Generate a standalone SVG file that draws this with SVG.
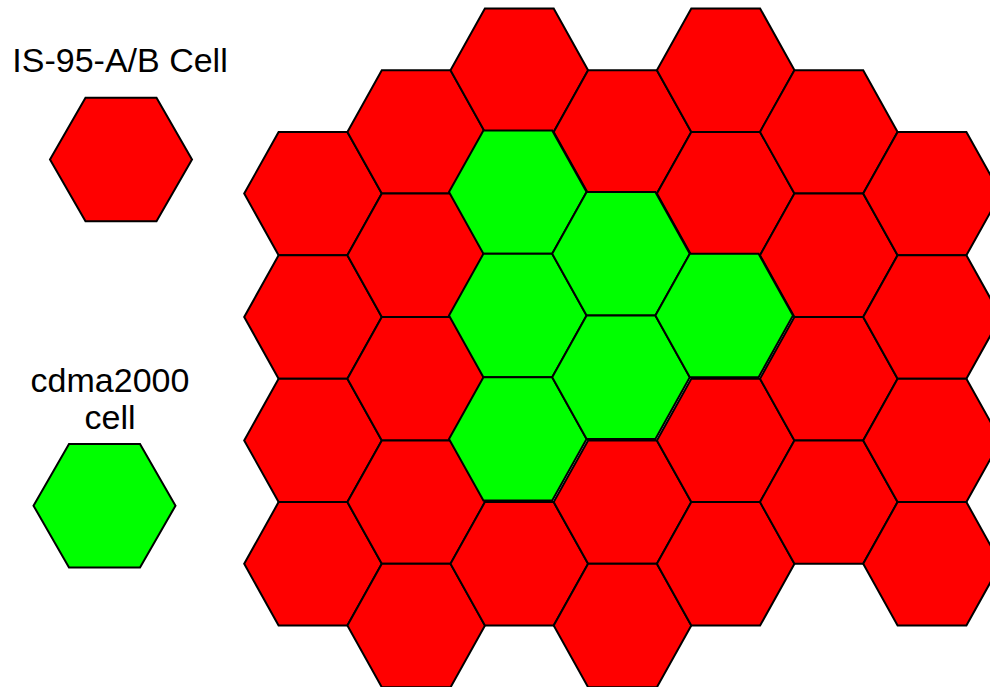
<svg xmlns="http://www.w3.org/2000/svg" xmlns:xlink="http://www.w3.org/1999/xlink" width="990" height="687" viewBox="0 0 990 687">
<style>
.red{fill:#FF0000;stroke:#000;stroke-width:2;stroke-linejoin:miter}
.green{fill:#00FF00;stroke:#000;stroke-width:2;stroke-linejoin:miter}
.lbl{font-family:"Liberation Sans",Arial,sans-serif;font-size:34px;fill:#000;text-anchor:middle}
</style>
<defs>
<polygon id="hex" points="-68.8,0 -34.4,-61.7 34.4,-61.7 68.8,0 34.4,61.7 -34.4,61.7"/>
<polygon id="lhex" points="-71,0 -35.5,-61.7 35.5,-61.7 71,0 35.5,61.7 -35.5,61.7"/>
</defs>
<rect width="990" height="687" fill="#fff"/>
<g id="legend">
<g id="legend-is95"><text class="lbl" x="120" y="72">IS-95-A/B Cell</text><use xlink:href="#lhex" class="red" x="121" y="159.5"/></g>
<g id="legend-cdma2000"><text class="lbl" x="110" y="392">cdma2000</text><text class="lbl" x="110" y="429">cell</text><use xlink:href="#lhex" class="green" x="104.5" y="505.7"/></g>
</g>
<g id="connectors"/>
<g id="grid">
<g id="c1r1"><use xlink:href="#hex" class="red" x="313" y="193.6"/></g>
<g id="c1r2"><use xlink:href="#hex" class="red" x="313" y="317"/></g>
<g id="c1r3"><use xlink:href="#hex" class="red" x="313" y="440.4"/></g>
<g id="c1r4"><use xlink:href="#hex" class="red" x="313" y="563.8"/></g>
<g id="c2r0"><use xlink:href="#hex" class="red" x="416.2" y="131.9"/></g>
<g id="c2r1"><use xlink:href="#hex" class="red" x="416.2" y="255.3"/></g>
<g id="c2r2"><use xlink:href="#hex" class="red" x="416.2" y="378.7"/></g>
<g id="c2r3"><use xlink:href="#hex" class="red" x="416.2" y="502.1"/></g>
<g id="c2r4"><use xlink:href="#hex" class="red" x="416.2" y="625.5"/></g>
<g id="c3r0"><use xlink:href="#hex" class="red" x="519.3" y="70.2"/></g>
<g id="c3r4"><use xlink:href="#hex" class="red" x="519.3" y="563.8"/></g>
<g id="c4r0"><use xlink:href="#hex" class="red" x="622.5" y="131.9"/></g>
<g id="c4r3"><use xlink:href="#hex" class="red" x="622.5" y="502.1"/></g>
<g id="c4r4"><use xlink:href="#hex" class="red" x="622.5" y="625.5"/></g>
<g id="c5r0"><use xlink:href="#hex" class="red" x="725.7" y="70.2"/></g>
<g id="c5r1"><use xlink:href="#hex" class="red" x="725.7" y="193.6"/></g>
<g id="c5r3"><use xlink:href="#hex" class="red" x="725.7" y="440.4"/></g>
<g id="c5r4"><use xlink:href="#hex" class="red" x="725.7" y="563.8"/></g>
<g id="c6r0"><use xlink:href="#hex" class="red" x="828.8" y="131.9"/></g>
<g id="c6r1"><use xlink:href="#hex" class="red" x="828.8" y="255.3"/></g>
<g id="c6r2"><use xlink:href="#hex" class="red" x="828.8" y="378.7"/></g>
<g id="c6r3"><use xlink:href="#hex" class="red" x="828.8" y="502.1"/></g>
<g id="c7r1"><use xlink:href="#hex" class="red" x="932" y="193.6"/></g>
<g id="c7r2"><use xlink:href="#hex" class="red" x="932" y="317"/></g>
<g id="c7r3"><use xlink:href="#hex" class="red" x="932" y="440.4"/></g>
<g id="c7r4"><use xlink:href="#hex" class="red" x="932" y="563.8"/></g>
</g>
<g id="cdma2000-cells" transform="translate(-1.5,-1.5)">
<g id="c3r1"><use xlink:href="#hex" class="green" x="519.3" y="193.6"/></g>
<g id="c3r2"><use xlink:href="#hex" class="green" x="519.3" y="317"/></g>
<g id="c3r3"><use xlink:href="#hex" class="green" x="519.3" y="440.4"/></g>
<g id="c4r1"><use xlink:href="#hex" class="green" x="622.5" y="255.3"/></g>
<g id="c4r2"><use xlink:href="#hex" class="green" x="622.5" y="378.7"/></g>
<g id="c5r2"><use xlink:href="#hex" class="green" x="725.7" y="317"/></g>
</g>
</svg>
